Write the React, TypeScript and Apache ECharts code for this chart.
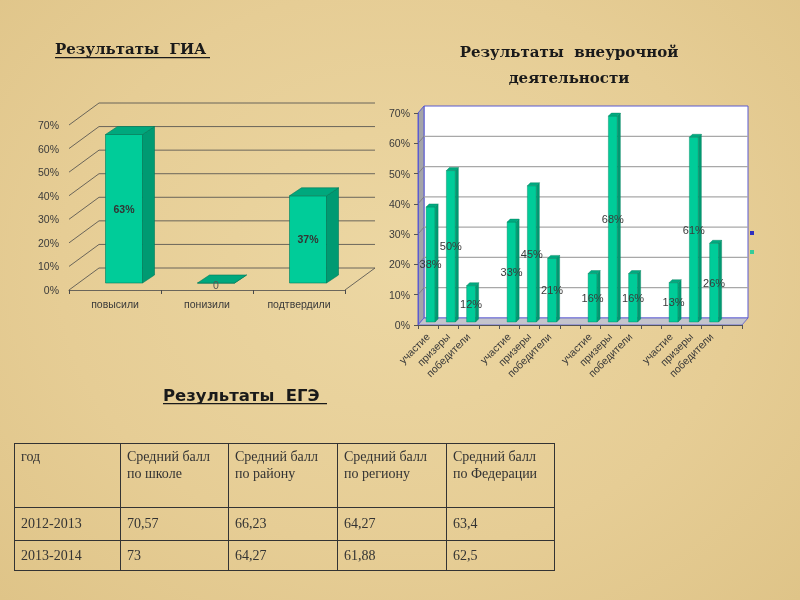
import React, { useEffect, useRef } from "react";
import * as echarts from "echarts";

// ---- data ----
const giaCategories = ["повысили", "понизили", "подтвердили"];
const giaValues = [63, 0, 37];
const percentTicks = [0, 10, 20, 30, 40, 50, 60, 70];

const extraCategories = [
  "участие", "призеры", "победители", "",
  "участие", "призеры", "победители", "",
  "участие", "призеры", "победители", "",
  "участие", "призеры", "победители", "",
];
const extraValues: (number | null)[] = [
  38, 50, 12, null,
  33, 45, 21, null,
  16, 68, 16, null,
  13, 61, 26, null,
];

const egeHeader = [
  ["год"],
  ["Средний балл", "по школе"],
  ["Средний балл", "по району"],
  ["Средний балл", "по региону"],
  ["Средний балл", "по Федерации"],
];
const egeRows = [
  ["2012-2013", "70,57", "66,23", "64,27", "63,4"],
  ["2013-2014", "73", "64,27", "61,88", "62,5"],
];

const titleGia = "Результаты  ГИА";
const titleExtra1 = "Результаты  внеурочной";
const titleExtra2 = "деятельности";
const titleEge = "Результаты  ЕГЭ";

const SANS = '"Liberation Sans", Arial, sans-serif';

export default function App() {
  const ref = useRef<HTMLDivElement>(null);

  useEffect(() => {
    if (!ref.current) return;
    const chart = echarts.init(ref.current, undefined, { renderer: "svg" });

    const giaWalls = (params: any, api: any) => {
      const cs = params.coordSys;
      const v = api.value(1);
      const y = api.coord([0, v])[1];
      const x0 = cs.x;
      const x1 = cs.x + cs.width;
      const DX = 30;
      const DY = -22;
      const st = { stroke: "#4a4a4a", lineWidth: 0.8, fill: null };
      const children: any[] = [
        { type: "line", shape: { x1: x0, y1: y, x2: x0 + DX, y2: y + DY }, style: st },
        { type: "line", shape: { x1: x0 + DX, y1: y + DY, x2: x1 + DX, y2: y + DY }, style: st },
      ];
      if (v === 0) {
        children.push({ type: "line", shape: { x1: x1, y1: y, x2: x1 + DX, y2: y + DY }, style: st });
      }
      return { type: "group", children };
    };

    const giaBars = (params: any, api: any) => {
      const i = api.value(0);
      const v = api.value(1);
      const base = api.coord([i, 0]);
      const top = api.coord([i, v]);
      const w = 37;
      const left = base[0] - 9.5;
      const r = left + w;
      const off = -7;
      const dx = 12;
      const dy = -8;
      const yb = base[1] + off;
      const yt = top[1] + off;
      const stroke = "#007a5a";
      return {
        type: "group",
        children: [
          { type: "rect", shape: { x: left, y: yt, width: w, height: yb - yt }, style: { fill: "#00cc99", stroke, lineWidth: 0.6 } },
          { type: "polygon", shape: { points: [[r, yt], [r + dx, yt + dy], [r + dx, yb + dy], [r, yb]] }, style: { fill: "#009a72", stroke, lineWidth: 0.6 } },
          { type: "polygon", shape: { points: [[left, yt], [left + dx, yt + dy], [r + dx, yt + dy], [r, yt]] }, style: { fill: "#00a87d", stroke, lineWidth: 0.6 } },
          {
            type: "text",
            x: left + w / 2,
            y: (yt + yb) / 2 + (v === 0 ? 2 : 0),
            style: {
              text: v === 0 ? "0" : v + "%",
              fill: v === 0 ? "#555" : "#333",
              font: (v === 0 ? "" : "bold ") + "10.5px " + SANS,
              align: "center",
              verticalAlign: "middle",
            },
          },
        ],
      };
    };

    const extraWalls = (params: any, api: any) => {
      const cs = params.coordSys;
      const v = api.value(1);
      const y = api.coord([0, v])[1];
      const x0 = cs.x;
      const x1 = cs.x + cs.width;
      const yTop = cs.y;
      const yBot = cs.y + cs.height;
      const DX = 6;
      const DY = -7;
      const blue = "#5b5bd0";
      const children: any[] = [];
      if (v === 0) {
        children.push(
          { type: "rect", shape: { x: x0 + DX, y: yTop + DY, width: x1 - x0, height: yBot - yTop }, style: { fill: "#ffffff", stroke: blue, lineWidth: 1 } },
          { type: "polygon", shape: { points: [[x0, yBot], [x0 + DX, yBot + DY], [x0 + DX, yTop + DY], [x0, yTop]] }, style: { fill: "#a4a4a8", stroke: blue, lineWidth: 1 } },
          { type: "polygon", shape: { points: [[x0, yBot], [x0 + DX, yBot + DY], [x1 + DX, yBot + DY], [x1, yBot]] }, style: { fill: "#c4c4cc", stroke: blue, lineWidth: 0.8 } }
        );
      } else if (v < 70) {
        children.push(
          { type: "line", shape: { x1: x0 + DX, y1: y + DY, x2: x1 + DX, y2: y + DY }, style: { stroke: "#a8a8a8", lineWidth: 1.2 } },
          { type: "line", shape: { x1: x0, y1: y, x2: x0 + DX, y2: y + DY }, style: { stroke: "#777", lineWidth: 0.8 } }
        );
      }
      return { type: "group", children };
    };

    const extraBars = (params: any, api: any) => {
      const i = api.value(0);
      const v = api.value(1);
      const base = api.coord([i, 0]);
      const top = api.coord([i, v]);
      const w = 9;
      const left = base[0] - 2;
      const r = left + w;
      const off = -3;
      const dx = 3;
      const dy = -3;
      const yb = base[1] + off;
      const yt = top[1] + off;
      const stroke = "#00805e";
      return {
        type: "group",
        children: [
          { type: "rect", shape: { x: left, y: yt, width: w, height: yb - yt }, style: { fill: "#00cc99", stroke, lineWidth: 0.4 } },
          { type: "polygon", shape: { points: [[r, yt], [r + dx, yt + dy], [r + dx, yb + dy], [r, yb]] }, style: { fill: "#009a72", stroke, lineWidth: 0.4 } },
          { type: "polygon", shape: { points: [[left, yt], [left + dx, yt + dy], [r + dx, yt + dy], [r, yt]] }, style: { fill: "#00aa80", stroke, lineWidth: 0.4 } },
          {
            type: "text",
            x: left + w / 2,
            y: (yt + yb) / 2,
            style: {
              text: v + "%",
              fill: "#3a3a3a",
              font: "11px " + SANS,
              align: "center",
              verticalAlign: "middle",
            },
          },
        ],
      };
    };

    const option: any = {
      animation: false,
      backgroundColor: "transparent",
      grid: [
        { left: 69, top: 125, width: 276, height: 165 },
        { left: 418, top: 113, width: 324, height: 212 },
      ],
      xAxis: [
        {
          type: "category",
          gridIndex: 0,
          data: giaCategories,
          z: 5,
          axisLine: { show: true, lineStyle: { color: "#4a4a4a", width: 0.8 } },
          axisTick: { show: true, length: 4, lineStyle: { color: "#4a4a4a" } },
          axisLabel: { color: "#3a3a3a", fontSize: 10.5, fontFamily: SANS, margin: 8 },
          splitLine: { show: false },
        },
        {
          type: "category",
          gridIndex: 1,
          data: extraCategories,
          z: 5,
          axisLine: { show: true, lineStyle: { color: "#555", width: 1 } },
          axisTick: { show: true, length: 4, interval: 0, lineStyle: { color: "#555" } },
          axisLabel: { color: "#3a3a3a", fontSize: 10.5, fontFamily: SANS, rotate: 45, interval: 0, margin: 10 },
          splitLine: { show: false },
        },
      ],
      yAxis: [
        {
          type: "value",
          gridIndex: 0,
          min: 0,
          max: 70,
          interval: 10,
          axisLine: { show: false },
          axisTick: { show: false },
          splitLine: { show: false },
          axisLabel: { formatter: "{value}%", color: "#3a3a3a", fontSize: 10.5, fontFamily: SANS, margin: 10 },
        },
        {
          type: "value",
          gridIndex: 1,
          min: 0,
          max: 70,
          interval: 10,
          z: 5,
          axisLine: { show: true, lineStyle: { color: "#5b5bd0", width: 1 } },
          axisTick: { show: true, length: 4, lineStyle: { color: "#555" } },
          splitLine: { show: false },
          axisLabel: { formatter: "{value}%", color: "#3a3a3a", fontSize: 10.5, fontFamily: SANS, margin: 8 },
        },
      ],
      series: [
        {
          type: "custom",
          xAxisIndex: 0,
          yAxisIndex: 0,
          z: 1,
          silent: true,
          renderItem: giaWalls,
          encode: { x: 0, y: 1 },
          data: percentTicks.map((t) => [0, t]),
        },
        {
          type: "custom",
          xAxisIndex: 0,
          yAxisIndex: 0,
          z: 3,
          renderItem: giaBars,
          encode: { x: 0, y: 1 },
          data: giaValues.map((v, i) => [i, v]),
        },
        {
          type: "custom",
          xAxisIndex: 1,
          yAxisIndex: 1,
          z: 1,
          silent: true,
          renderItem: extraWalls,
          encode: { x: 0, y: 1 },
          data: percentTicks.map((t) => [0, t]),
        },
        {
          type: "custom",
          xAxisIndex: 1,
          yAxisIndex: 1,
          z: 3,
          renderItem: extraBars,
          encode: { x: 0, y: 1 },
          data: extraValues
            .map((v, i) => (v === null ? null : [i, v]))
            .filter((d) => d !== null),
        },
      ],
      graphic: [
        {
          type: "text",
          left: 55,
          top: 41,
          style: { text: titleGia, fill: "#1a1a1a", font: 'bold 15px "DejaVu Serif", serif' },
        },
        { type: "rect", shape: { x: 55, y: 57, width: 155, height: 1.3 }, style: { fill: "#1a1a1a" } },
        {
          type: "text",
          x: 569,
          y: 52,
          style: { text: titleExtra1, fill: "#1a1a1a", font: 'bold 15px "DejaVu Serif", serif', align: "center", verticalAlign: "middle" },
        },
        {
          type: "text",
          x: 569,
          y: 78,
          style: { text: titleExtra2, fill: "#1a1a1a", font: 'bold 15px "DejaVu Serif", serif', align: "center", verticalAlign: "middle" },
        },
        {
          type: "text",
          left: 163,
          top: 387,
          style: { text: titleEge, fill: "#1a1a1a", font: 'bold 16.5px "DejaVu Sans", sans-serif' },
        },
        { type: "rect", shape: { x: 163, y: 403, width: 164, height: 1.3 }, style: { fill: "#1a1a1a" } },
        { type: "rect", shape: { x: 750, y: 231, width: 4, height: 4 }, style: { fill: "#2f2fbf" } },
        { type: "rect", shape: { x: 750, y: 250, width: 4, height: 4 }, style: { fill: "#33cc99" } },
      ],
    };

    chart.setOption(option);
    return () => chart.dispose();
  }, []);

  const colWidths = [106, 108, 109, 109, 108];
  const cellBorder = "1px solid #333";

  return (
    <div
      style={{
        position: "fixed",
        left: 0,
        top: 0,
        width: 800,
        height: 600,
        background: "radial-gradient(ellipse at 50% 45%, #ecd7a3 0%, #e6cd95 60%, #dfc488 100%)",
        overflow: "hidden",
      }}
    >
      <div ref={ref} style={{ position: "absolute", left: 0, top: 0, width: 800, height: 600 }} />
      <table
        style={{
          position: "absolute",
          left: 14,
          top: 443,
          width: 540,
          borderCollapse: "collapse",
          tableLayout: "fixed",
          fontFamily: '"Liberation Serif", "Times New Roman", serif',
          fontSize: 14,
          color: "#333",
        }}
      >
        <colgroup>
          {colWidths.map((w, i) => (
            <col key={i} style={{ width: w }} />
          ))}
        </colgroup>
        <tbody>
          <tr style={{ height: 64 }}>
            {egeHeader.map((lines, i) => (
              <td
                key={i}
                style={{ border: cellBorder, verticalAlign: "top", padding: "4px 6px", lineHeight: "17px" }}
              >
                {lines.map((l, j) => (
                  <div key={j}>{l}</div>
                ))}
              </td>
            ))}
          </tr>
          {egeRows.map((row, ri) => (
            <tr key={ri} style={{ height: ri === 0 ? 33 : 30 }}>
              {row.map((c, ci) => (
                <td key={ci} style={{ border: cellBorder, verticalAlign: "middle", padding: "0 6px" }}>
                  {c}
                </td>
              ))}
            </tr>
          ))}
        </tbody>
      </table>
    </div>
  );
}
